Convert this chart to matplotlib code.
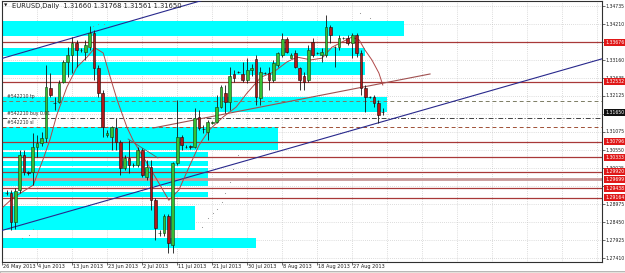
import numpy as np
import matplotlib.pyplot as plt
from matplotlib import font_manager
from matplotlib.patches import Rectangle
from matplotlib.transforms import blended_transform_factory

# EURUSD daily bars, 27 May 2013 .. 4 Sep 2013 (broker shows Sunday bars)
opens = [1.2929, 1.2930, 1.2846, 1.2938, 1.3040, 1.2990, 1.2991, 1.3064, 1.3075, 1.3090,
         1.3235, 1.3193, 1.3194, 1.3252, 1.3311, 1.3331, 1.3366, 1.3346, 1.3340, 1.3354,
         1.3395, 1.3293, 1.3220, 1.3098, 1.3093, 1.3119, 1.3078, 1.3002, 1.3032, 1.3011,
         1.3011, 1.3055, 1.2976, 1.3005, 1.2909, 1.2814, 1.2814, 1.2863, 1.2779, 1.3017,
         1.3093, 1.3064, 1.3066, 1.3064, 1.3150, 1.3117, 1.3107, 1.3134, 1.3136, 1.3180,
         1.3220, 1.3194, 1.3276, 1.3282, 1.3276, 1.3258, 1.3288, 1.3320, 1.3206, 1.3280,
         1.3279, 1.3258, 1.3302, 1.3331, 1.3378, 1.3322, 1.3337, 1.3293, 1.3270, 1.3258,
         1.3369, 1.3337, 1.3331, 1.3331, 1.3412, 1.3354, 1.3354, 1.3380, 1.3380, 1.3366,
         1.3389, 1.3337, 1.3235, 1.3209, 1.3209, 1.3191, 1.31660]
highs = [1.2939, 1.2939, 1.2944, 1.3055, 1.3055, 1.2994, 1.3104, 1.3098, 1.3107, 1.3302,
         1.3279, 1.3209, 1.3258, 1.3317, 1.3354, 1.3383, 1.3375, 1.3352, 1.3375, 1.3415,
         1.3403, 1.3302, 1.3229, 1.3113, 1.3125, 1.3148, 1.3084, 1.3040, 1.3084, 1.3017,
         1.3064, 1.3061, 1.3026, 1.3026, 1.2915, 1.2822, 1.2869, 1.2869, 1.3020, 1.3200,
         1.3098, 1.3069, 1.3070, 1.3177, 1.3171, 1.3127, 1.3142, 1.3140, 1.3214, 1.3244,
         1.3244, 1.3296, 1.3288, 1.3285, 1.3311, 1.3322, 1.3305, 1.3331, 1.3296, 1.3282,
         1.3296, 1.3317, 1.3340, 1.3395, 1.3383, 1.3337, 1.3346, 1.3296, 1.3282, 1.3360,
         1.3380, 1.3340, 1.3352, 1.3447, 1.3418, 1.3357, 1.3389, 1.3383, 1.3389, 1.3395,
         1.3395, 1.3346, 1.3244, 1.3212, 1.3214, 1.3200, 1.31768]
lows = [1.2924, 1.2822, 1.2825, 1.2929, 1.2982, 1.2983, 1.2953, 1.3035, 1.3067, 1.3078,
        1.3209, 1.3171, 1.3191, 1.3249, 1.3267, 1.3279, 1.3296, 1.3340, 1.3317, 1.3346,
        1.3258, 1.3209, 1.3093, 1.3093, 1.3055, 1.3055, 1.2982, 1.2997, 1.2988, 1.3005,
        1.3005, 1.2976, 1.2968, 1.2881, 1.2793, 1.2805, 1.2805, 1.2756, 1.2756, 1.3011,
        1.3055, 1.3061, 1.3058, 1.3061, 1.3113, 1.3104, 1.3084, 1.3130, 1.3133, 1.3177,
        1.3162, 1.3171, 1.3252, 1.3278, 1.3252, 1.3249, 1.3270, 1.3185, 1.3185, 1.3275,
        1.3229, 1.3252, 1.3296, 1.3325, 1.3337, 1.3322, 1.3293, 1.3229, 1.3229, 1.3252,
        1.3325, 1.3334, 1.3311, 1.3325, 1.3366, 1.3296, 1.3346, 1.3378, 1.3360, 1.3322,
        1.3325, 1.3214, 1.3165, 1.3205, 1.3180, 1.3133, 1.31561]
closes = [1.2931, 1.2846, 1.2935, 1.3040, 1.2991, 1.2988, 1.3064, 1.3075, 1.3090, 1.3238,
          1.3214, 1.3191, 1.3249, 1.3311, 1.3331, 1.3366, 1.3346, 1.3347, 1.3360, 1.3395,
          1.3293, 1.3220, 1.3122, 1.3104, 1.3122, 1.3078, 1.3002, 1.3032, 1.3011, 1.3012,
          1.3055, 1.2982, 1.3005, 1.2909, 1.2828, 1.2815, 1.2863, 1.2785, 1.3017, 1.3093,
          1.3069, 1.3065, 1.3063, 1.3148, 1.3119, 1.3115, 1.3136, 1.3136, 1.3180, 1.3238,
          1.3194, 1.3270, 1.3264, 1.3281, 1.3258, 1.3288, 1.3293, 1.3209, 1.3282, 1.3278,
          1.3258, 1.3308, 1.3337, 1.3378, 1.3340, 1.3331, 1.3296, 1.3258, 1.3252, 1.3346,
          1.3331, 1.3338, 1.3340, 1.3412, 1.3389, 1.3355, 1.3380, 1.3381, 1.3366, 1.3389,
          1.3337, 1.3235, 1.3209, 1.3208, 1.3191, 1.3156, 1.31650]

# moving average (bar position, price)
ma_pos = [-0.8, 1.5, 6.1, 8.3, 9.9, 11.5, 13.8, 16.1, 18.4, 20.2, 22.1, 23.7, 25.3, 27.5,
          28.9, 32.1, 34.4, 37.1, 39.4, 41.7, 44.0, 46.3, 49.5, 52.5, 55.0, 58.2, 61.1,
          64.1, 66.4, 69.6, 72.1, 74.4, 76.7, 78.9, 80.6, 81.9, 83.5, 85.1, 86.0]
ma_val = [1.2889, 1.2916, 1.2953, 1.3026, 1.3084, 1.3157, 1.3238, 1.3296, 1.3325, 1.3352,
          1.3337, 1.3267, 1.3200, 1.3122, 1.3084, 1.3017, 1.2968, 1.2909, 1.2939, 1.3005,
          1.3069, 1.3113, 1.3151, 1.3180, 1.3221, 1.3267, 1.3282, 1.3311, 1.3325, 1.3317,
          1.3322, 1.3354, 1.3369, 1.3383, 1.3375, 1.3346, 1.3317, 1.3279, 1.3244]

# dotted indicator points
dot_pos = [3.5, 5.1, 6.1, 44.7, 46.1, 47.2, 48.1, 49.3, 49.9, 51.1, 51.8, 52.9, 80.8, 83.1,
           19.8, 21.0, 22.2, 23.4]
dot_val = [1.2799, 1.2808, 1.2825, 1.2831, 1.2857, 1.2872, 1.2884, 1.2904, 1.2930, 1.2962,
           1.2999, 1.3040, 1.3453, 1.3439, 1.3415, 1.3421, 1.3421, 1.3415]

# cyan zones: low, high, last bar
zone_lo = [1.3386, 1.3328, 1.3273, 1.3165, 1.3055, 1.3032, 1.3008, 1.2950, 1.2918, 1.2822, 1.2770]
zone_hi = [1.3430, 1.3352, 1.3311, 1.3209, 1.3122, 1.3049, 1.3023, 1.3003, 1.2933, 1.2892, 1.2799]
zone_end = [90.9, 81.9, 81.9, 87.0, 62.1, 46.1, 46.1, 46.1, 46.1, 43.1, 57.0]

# horizontal support / resistance lines
level_vals = [1.33676, 1.32532, 1.30796, 1.30333, 1.29920, 1.29699, 1.29438, 1.29164]

# trend lines (two anchor points each)
blue_up = ([-0.8, 44.2], [1.3322, 1.3488])
blue_low = ([-0.8, 136.1], [1.2822, 1.3320])
brown_tl = ([33.5, 96.8], [1.3119, 1.3276])
grey_tl = ([27.8, 34.6], [1.3087, 1.3032])

# order lines
order_names = ['#542210 tp', '#542210 buy 0.01', '#542210 sl']
order_vals = [1.3197, 1.3148, 1.3122]

price_ticks = [1.34735, 1.34210, 1.33160, 1.32635, 1.32125, 1.31075, 1.30550, 1.30025,
               1.28975, 1.28450, 1.27925, 1.27410]
grid_vals = [1.27410 + k * 0.0052321 for k in range(15)]
date_labels = ['26 May 2013', '4 Jun 2013', '13 Jun 2013', '23 Jun 2013', '2 Jul 2013',
               '11 Jul 2013', '21 Jul 2013', '30 Jul 2013', '8 Aug 2013', '18 Aug 2013',
               '27 Aug 2013']

plt.rcParams['font.family'] = ['DejaVu Sans']

# small terminal-like text: a narrow face if there is one
avail = {f.name for f in font_manager.fontManager.ttflist}
if 'Liberation Sans Narrow' in avail:
    small_font, k = 'Liberation Sans Narrow', 1.38
else:
    small_font, k = 'DejaVu Sans', 1.0

fig = plt.figure(figsize=(6.25, 2.73), dpi=100)
fig.patch.set_facecolor('white')
ax = fig.add_axes([0.0032, 0.0403, 0.96, 0.956])
ax.set_xlim(-1.03, 136.1)
ax.set_ylim(1.27295, 1.34881)

# grid
for g in grid_vals:
    ax.axhline(g, color='#BDBDBD', lw=0.5, ls=(0, (1, 2)), zorder=0)
grid_x = [8 * i - 1 for i in range(18)]
for g in grid_x:
    ax.axvline(g, color='#BDBDBD', lw=0.5, ls=(0, (1, 2)), zorder=0)

# zones
for lo, hi, end in zip(zone_lo, zone_hi, zone_end):
    ax.add_patch(Rectangle((-3, lo), end + 3, hi - lo, fc='#00FFFF', ec='none', zorder=1))

# levels
for v in level_vals:
    if abs(v - 1.29699) < 1e-6:
        ax.axhline(v, color='#C89898', lw=2.0, zorder=2)
    else:
        ax.axhline(v, color='#A83838', lw=0.9, zorder=2)

# order lines
ax.axhline(order_vals[0], color='#7C7C64', lw=0.7, ls=(0, (4, 3)), zorder=2)
ax.axhline(order_vals[1], color='#404040', lw=0.7, ls=(0, (5, 2, 1, 2)), zorder=2)
ax.axhline(order_vals[2], color='#A05036', lw=0.7, ls=(0, (4, 3)), zorder=2)
trans_a = blended_transform_factory(ax.transAxes, ax.transData)
for name, v in zip(order_names, order_vals):
    ax.text(0.009, v + 0.0005, name, transform=trans_a, fontsize=3.3 * k,
            family=small_font, color='#303030', va='bottom', ha='left', zorder=8)

# trend lines (extended, clipped by axes)
def extend(pts, x0, x1):
    (xa, xb), (ya, yb) = pts
    s = (yb - ya) / (xb - xa)
    return [x0, x1], [ya + s * (x0 - xa), ya + s * (x1 - xa)]

bx, by = extend(blue_up, -2, 60)
ax.plot(bx, by, color='#28288C', lw=0.8, zorder=3)
bx, by = extend(blue_low, -2, 136.1)
ax.plot(bx, by, color='#28288C', lw=0.8, zorder=3)
ax.plot(*brown_tl, color='#A05050', lw=0.8, zorder=3)
ax.plot(*grey_tl, color='#606060', lw=0.6, zorder=3)

# moving average
ax.plot(ma_pos, ma_val, color='#B04848', lw=0.7, zorder=4)
ax.scatter(dot_pos, dot_val, s=0.6, color='#8C8C8C', zorder=4, linewidths=0)

# candles
o = np.array(opens)
h = np.array(highs)
l = np.array(lows)
c = np.array(closes)
idx = np.arange(len(o))
ax.vlines(idx, l, h, color='#141414', lw=0.6, zorder=5)
up = c >= o
body_lo = np.minimum(o, c)
body_h = np.maximum(np.abs(c - o), 0.00003)
ax.bar(idx[up], body_h[up], bottom=body_lo[up], width=0.62, color='#34C034',
       edgecolor='#0E3A0E', linewidth=0.4, zorder=6)
ax.bar(idx[~up], body_h[~up], bottom=body_lo[~up], width=0.62, color='#B01818',
       edgecolor='#1A0505', linewidth=0.4, zorder=6)

# frame and ticks
for s in ax.spines.values():
    s.set_color('#303030')
    s.set_linewidth(0.8)
ax.set_yticks(grid_vals)
ax.yaxis.tick_right()
ax.tick_params(axis='y', length=2, width=0.5, labelright=False, color='#303030')
ax.set_xticks(grid_x[:11])
ax.tick_params(axis='x', length=2, width=0.5, labelbottom=False, color='#303030')

# price scale labels
for v in price_ticks:
    ax.text(1.0055, v, f'{v:.5f}', transform=trans_a, fontsize=3.3 * k,
            family=small_font, color='#202020', va='center', ha='left',
            clip_on=False, zorder=9)
for v in level_vals:
    ax.text(1.0055, v, f'{v:.5f}', transform=trans_a, fontsize=3.3 * k,
            family=small_font, color='white', va='center', ha='left', clip_on=False,
            zorder=10, bbox=dict(boxstyle='square,pad=0.25', fc='#E01818', ec='none'))
ax.text(1.0055, closes[-1], f'{closes[-1]:.5f}', transform=trans_a, fontsize=3.3 * k,
        family=small_font, color='white', va='center', ha='left', clip_on=False,
        zorder=10, bbox=dict(boxstyle='square,pad=0.25', fc='#101010', ec='none'))

# date labels
trans_d = blended_transform_factory(ax.transData, ax.transAxes)
for g, lab in zip(grid_x, date_labels):
    ax.text(g + 0.1, -0.017, lab, transform=trans_d, fontsize=3.6 * k,
            family=small_font, color='#202020', va='center', ha='left', clip_on=False)

# header
ax.text(0.004, 0.981, '\u25bc', transform=ax.transAxes, fontsize=3.2, color='#202020',
        va='center', ha='left', zorder=9)
ax.text(0.0167, 0.981, 'EURUSD,Daily  1.31660 1.31768 1.31561 1.31650',
        transform=ax.transAxes, fontsize=4.9 * k, family=small_font, color='#202020',
        va='center', ha='left', zorder=9)

# window bottom edge
fig.add_artist(Rectangle((0, 0), 1, 2.2 / 273, transform=fig.transFigure,
                         fc='#E4E2DC', ec='#A0A0A0', lw=0.5))

fig.savefig('out.png', dpi=100)
